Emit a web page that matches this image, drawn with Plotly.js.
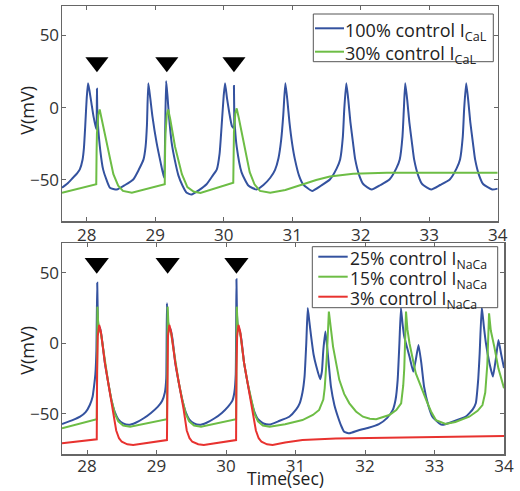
<!DOCTYPE html>
<html>
<head>
<meta charset="utf-8">
<script src="https://cdn.plot.ly/plotly-3.0.1.min.js"></script>
<style>html,body{margin:0;padding:0;background:#fff;}#chart{width:520px;height:491px;}</style>
</head>
<body>
<div id="chart"></div>
<script>
// ---------- Top panel: I_CaL block ----------
const timeTopBlue = [27.64,27.72,27.80,27.86,27.90,27.94,27.96,27.98,28.00,28.02,28.04,28.07,28.10,28.14,28.145,28.15,28.155,28.165,28.20,28.24,28.29,28.34,28.44,28.56,28.68,28.76,28.83,28.86,28.88,28.90,28.93,28.96,29.02,29.08,29.13,29.145,29.16,29.18,29.20,29.24,29.29,29.34,29.40,29.46,29.53,29.64,29.75,29.84,29.90,29.94,29.97,30.00,30.02,30.05,30.08,30.12,30.145,30.15,30.155,30.165,30.19,30.26,30.36,30.48,30.58,30.68,30.75,30.80,30.84,30.87,30.90,30.93,30.96,31.00,31.04,31.10,31.16,31.29,31.42,31.55,31.65,31.70,31.74,31.76,31.79,31.82,31.85,31.89,31.92,31.98,32.04,32.16,32.29,32.42,32.52,32.57,32.61,32.63,32.65,32.68,32.71,32.75,32.78,32.84,32.90,33.03,33.16,33.30,33.40,33.45,33.49,33.51,33.54,33.57,33.60,33.64,33.67,33.73,33.79,33.92,34.00];
const vTopBlue    = [-55.4,-52.5,-48.5,-45.5,-42.7,-36,-28,-12,6,16.8,12,3,-6,-15,-13,13,-2,-12,-30,-42.7,-50,-55.4,-56.6,-53.5,-49.7,-43,-35.8,-27,-12,16.8,6,-6,-24,-38,-48.5,-20,18.4,8,-5,-24,-37,-47,-54,-58.9,-60,-57,-53,-47,-42.7,-32,-12.7,8,16.8,6,-3,-12.7,-14,15,-4,-14,-27,-44.6,-53.9,-56.6,-53.5,-48.5,-43,-35,-22,-5,16.8,5,-10,-25,-35.8,-47,-53,-57.6,-54,-49.7,-42,-35.8,-20,-1.2,16.8,5,-10,-25,-35.8,-47,-53,-56.6,-53.5,-49.7,-42,-35.8,-20,-1.2,16.8,5,-10,-25,-35.8,-47,-53,-56.6,-53.5,-49.7,-42,-35.8,-20,-1.2,16.8,5,-10,-25,-35.8,-47,-53,-56.6,-56];
const timeTopGreen = [27.64,28.14,28.145,28.15,28.17,28.19,28.22,28.29,28.39,28.46,28.53,28.66,29.14,29.145,29.15,29.17,29.19,29.22,29.29,29.39,29.47,29.56,29.66,30.14,30.145,30.15,30.17,30.19,30.22,30.29,30.38,30.45,30.53,30.68,30.90,31.16,31.35,31.55,31.89,32.38,34.00];
const vTopGreen    = [-58.9,-53,-30,-18,-5,-1.2,-8,-24,-46,-54,-57.6,-58.9,-53,-30,-18,-5,-1.2,-8,-27,-46,-55,-58,-59,-52,-30,-17,-4,-0.5,-7,-24,-44.6,-53,-57.6,-58.9,-57,-53,-50,-47.6,-45.8,-45,-45];
const stimTop = [28.15, 29.17, 30.15];
const stimLevelTop = 31.4;

// ---------- Bottom panel: I_NaCa block ----------
const timeBotBlue = [27.64,27.80,27.90,27.98,28.04,28.08,28.10,28.12,28.135,28.147,28.155,28.165,28.185,28.21,28.257,28.305,28.35,28.40,28.45,28.52,28.60,28.70,28.81,28.92,29.02,29.08,29.12,29.14,29.15,29.16,29.175,29.20,29.23,29.27,29.32,29.37,29.42,29.47,29.54,29.62,29.72,29.83,29.94,30.03,30.09,30.12,30.14,30.15,30.158,30.17,30.19,30.22,30.26,30.31,30.36,30.41,30.46,30.54,30.627,30.75,30.91,31.01,31.06,31.10,31.13,31.155,31.176,31.20,31.225,31.26,31.30,31.354,31.38,31.40,31.43,31.46,31.51,31.56,31.61,31.66,31.70,31.775,31.90,32.05,32.20,32.32,32.40,32.44,32.47,32.495,32.517,32.54,32.565,32.64,32.694,32.73,32.77,32.81,32.85,32.91,32.97,33.07,33.115,33.25,33.45,33.55,33.594,33.63,33.65,33.68,33.71,33.74,33.79,33.84,33.88,33.92,33.96,34.00];
const vBotBlue    = [-57.4,-54.5,-52.2,-49,-43.9,-38,-31,-22,-5,43,20,12,11,4.7,-14,-28,-40,-49,-54,-57,-58,-56.5,-53.5,-49.5,-45,-41,-35,-25,28.4,18,12,10,3,-14,-28,-40,-49,-54,-57,-58,-56.5,-53.5,-49.5,-45,-41,-35,-22,45.5,20,12,10,3,-14,-28,-40,-49,-54,-57,-57.8,-55.5,-52.2,-47,-42.7,-35,-23.7,0,25,15,4.7,-8,-16.6,-25.6,-20,-5,8.3,-5,-30.9,-44,-52.2,-59,-62.9,-64,-62,-60,-57.4,-53,-47.4,-40,-26,0,25,14,4.7,-9.5,-20.2,-12,-1.2,-14,-30.9,-44,-52.2,-57,-58,-56,-52.2,-47,-42.7,-25,-7,26,12,0,-14,-23.7,-12,2.3,-8,-17.6];
const timeBotGreen = [27.64,28.14,28.145,28.15,28.16,28.175,28.20,28.257,28.305,28.35,28.40,28.45,28.52,28.62,29.15,29.155,29.16,29.17,29.185,29.21,29.27,29.32,29.37,29.42,29.47,29.54,29.64,30.145,30.15,30.155,30.165,30.18,30.205,30.26,30.31,30.36,30.41,30.46,30.53,30.627,30.85,31.10,31.25,31.34,31.40,31.42,31.45,31.48,31.51,31.54,31.63,31.70,31.775,31.87,31.97,32.07,32.16,32.35,32.45,32.52,32.55,32.565,32.59,32.61,32.64,32.73,32.88,32.95,33.02,33.16,33.30,33.50,33.62,33.69,33.73,33.76,33.785,33.81,33.86,33.92,34.00];
const vBotGreen    = [-60.5,-54,-20,26,15,10,7,-14,-28,-40,-50,-55.5,-58.5,-59.3,-54,-20,26,15,10,7,-14,-28,-40,-50,-55.5,-58.5,-59.3,-54,-20,26,15,10,7,-14,-28,-40,-50,-55.5,-58.5,-59.3,-57.5,-54.6,-51,-47.4,-40,-32,-10,22.5,8,-2.4,-26,-36,-42.7,-48.5,-52.2,-53.7,-54,-51,-47.5,-42.7,-30,-18,22.5,10,0,-21.3,-40.3,-48.5,-54.6,-57.4,-56,-52.2,-48,-43.9,-35,-15,21.3,9,-2.4,-18,-32];
const timeBotRed = [27.64,28.14,28.145,28.155,28.175,28.20,28.257,28.305,28.35,28.375,28.42,28.46,28.50,28.58,28.664,29.15,29.155,29.165,29.185,29.21,29.27,29.32,29.37,29.39,29.435,29.475,29.515,29.60,29.68,30.145,30.15,30.16,30.18,30.205,30.26,30.31,30.36,30.385,30.43,30.47,30.51,30.59,30.67,30.85,31.10,31.58,32.50,34.00];
const vBotRed    = [-71.1,-68.3,-20,5,13,8,-14,-28,-40,-47,-62,-67.5,-70,-71.8,-72.3,-68.8,-20,5,13,8,-14,-28,-40,-47,-62,-67.5,-70,-71.8,-72.3,-68.8,-20,5,13,8,-14,-28,-40,-47,-62,-67.5,-70,-71.8,-72.3,-70.5,-68.8,-67.6,-66.8,-66];
const stimBottom = [28.14, 29.16, 30.15];
const stimLevelBottom = 56.8;

const xTicks = [28, 29, 30, 31, 32, 33, 34];
const yTicks = [-50, 0, 50];
const legendTop = ['100% control I<sub>CaL</sub>', '30% control I<sub>CaL</sub>'];
const legendBottom = ['25% control I<sub>NaCa</sub>', '15% control I<sub>NaCa</sub>', '3% control I<sub>NaCa</sub>'];

const BLUE = '#34529f', GREEN = '#6dbd45', RED = '#e8322f';
const FONT = 'Open Sans, Lato, sans-serif';

// pixel -> paper helpers (plot area: x 62..504, y 6..454)
const W = 520, H = 491, ML = 62, MR = 16, MT = 6, MB = 37;
const PW = W - ML - MR, PH = H - MT - MB;
const px = v => (v - ML) / PW;
const py = v => 1 - (v - MT) / PH;

const traces = [
  {x: timeTopBlue, y: vTopBlue, xaxis: 'x', yaxis: 'y', mode: 'lines', name: legendTop[0], line: {color: BLUE, width: 2, shape: 'spline', smoothing: 0.5}},
  {x: timeTopGreen, y: vTopGreen, xaxis: 'x', yaxis: 'y', mode: 'lines', name: legendTop[1], line: {color: GREEN, width: 2}},
  {x: stimTop, y: stimTop.map(() => stimLevelTop), xaxis: 'x', yaxis: 'y', mode: 'markers', marker: {symbol: 'triangle-down', size: 20, color: '#000'}, cliponaxis: false},
  {x: timeBotBlue, y: vBotBlue, xaxis: 'x2', yaxis: 'y2', mode: 'lines', name: legendBottom[0], line: {color: BLUE, width: 2, shape: 'spline', smoothing: 0.4}},
  {x: timeBotGreen, y: vBotGreen, xaxis: 'x2', yaxis: 'y2', mode: 'lines', name: legendBottom[1], line: {color: GREEN, width: 2}},
  {x: timeBotRed, y: vBotRed, xaxis: 'x2', yaxis: 'y2', mode: 'lines', name: legendBottom[2], line: {color: RED, width: 2}},
  {x: stimBottom, y: stimBottom.map(() => stimLevelBottom), xaxis: 'x2', yaxis: 'y2', mode: 'markers', marker: {symbol: 'triangle-down', size: 21, color: '#000'}, cliponaxis: false}
];

const axisCommon = {
  showgrid: false, zeroline: false, showline: true, linecolor: '#666', linewidth: 1.5,
  mirror: 'ticks', ticks: 'inside', ticklen: 4, tickcolor: '#666', tickwidth: 1,
  tickfont: {family: FONT, size: 17, color: '#333'}
};

// manual legends (box, line samples, labels)
const shapes = [], annotations = [];
function addLegend(labels, colors, box, rowsY, lineX, textX, fsize) {
  shapes.push({type: 'rect', xref: 'paper', yref: 'paper', x0: px(box[0]), x1: px(box[1]), y0: py(box[3]), y1: py(box[2]),
    line: {color: '#555', width: 1}, fillcolor: '#fff', layer: 'above'});
  labels.forEach((lab, i) => {
    shapes.push({type: 'line', xref: 'paper', yref: 'paper', x0: px(lineX[0]), x1: px(lineX[1]), y0: py(rowsY[i]), y1: py(rowsY[i]),
      line: {color: colors[i], width: 2}, layer: 'above'});
    annotations.push({xref: 'paper', yref: 'paper', x: px(textX), y: py(rowsY[i]), xanchor: 'left', yanchor: 'middle',
      text: lab, showarrow: false, font: {family: FONT, size: fsize, color: '#222'}, borderpad: 0, yshift: -3});
  });
}
addLegend(legendTop, [BLUE, GREEN], [313.3, 493.3, 14, 61.7], [28.3, 51.7], [315, 344], 344, 18);
addLegend(legendBottom, [BLUE, GREEN, RED], [312.3, 497.7, 246.7, 307.7], [256.7, 276.7, 296.7], [318.3, 347.7], 349, 17.5);

// axis titles
annotations.push({xref: 'paper', yref: 'paper', x: px(26.7), y: py(110), text: 'V(mV)', textangle: -90, showarrow: false,
  xanchor: 'center', yanchor: 'middle', font: {family: FONT, size: 18, color: '#222'}});
annotations.push({xref: 'paper', yref: 'paper', x: px(26.7), y: py(350), text: 'V(mV)', textangle: -90, showarrow: false,
  xanchor: 'center', yanchor: 'middle', font: {family: FONT, size: 18, color: '#222'}});
annotations.push({xref: 'paper', yref: 'paper', x: px(285), y: py(491), text: 'Time(sec)', showarrow: false,
  xanchor: 'center', yanchor: 'bottom', yshift: 0, font: {family: FONT, size: 17.5, color: '#222'}, borderpad: 0});

const layout = {
  width: W, height: H,
  margin: {l: ML, r: MR, t: MT, b: MB},
  paper_bgcolor: '#fff', plot_bgcolor: '#fff',
  font: {family: FONT, color: '#222'},
  showlegend: false,
  xaxis: Object.assign({}, axisCommon, {domain: [0, px(497.7)], anchor: 'y', range: [27.64, 34], tickvals: xTicks, ticklabelstandoff: -2}),
  yaxis: Object.assign({}, axisCommon, {domain: [py(221), 1], anchor: 'x', range: [-78.4, 70.3], tickvals: yTicks, ticklabelstandoff: -2}),
  xaxis2: Object.assign({}, axisCommon, {domain: [0, 1], anchor: 'y2', range: [27.64, 34], tickvals: xTicks, ticklabelstandoff: -4}),
  yaxis2: Object.assign({}, axisCommon, {domain: [0, py(243.3)], anchor: 'x2', range: [-78.7, 71], tickvals: yTicks, ticklabelstandoff: -2}),
  shapes: shapes,
  annotations: annotations
};

Plotly.newPlot('chart', traces, layout, {displayModeBar: false, staticPlot: true});
</script>
</body>
</html>
